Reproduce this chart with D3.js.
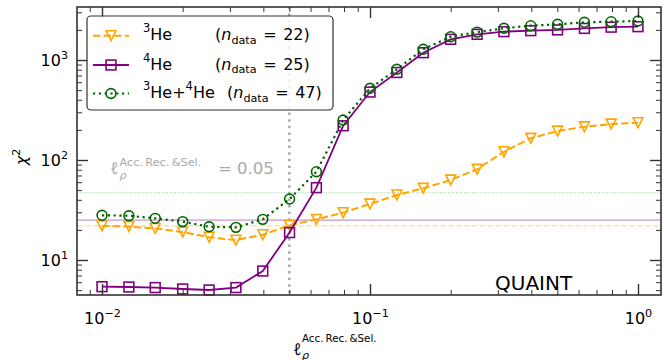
<!DOCTYPE html>
<html>
<head>
<meta charset="utf-8">
<script src="https://cdn.jsdelivr.net/npm/d3@7"></script>
<style>
  body { margin: 0; background: #fff; }
  svg text { font-family: "DejaVu Sans", sans-serif; }
  svg tspan.ell { font-family: "Noto Sans", "DejaVu Sans", sans-serif; font-style: italic; }
</style>
</head>
<body>
<svg id="chart" width="664" height="360"></svg>
<script>
// Length-scale values (log spaced, 10 per decade)
const lengthScale = [0.01, 0.0126, 0.0158, 0.02, 0.0251, 0.0316, 0.0398, 0.0501, 0.0631, 0.0794,
                     0.1, 0.126, 0.158, 0.2, 0.251, 0.316, 0.398, 0.501, 0.631, 0.794, 1.0];
// chi^2 for each data set
const chi2He3  = [21.9, 21.6, 20.7, 19.0, 16.9, 15.8, 17.9, 22.2, 25.5, 29.7, 36.3,
                  44.7, 52.1, 63.1, 80.7, 121, 165, 195, 215, 229, 236];
const chi2He4  = [5.41, 5.37, 5.30, 5.13, 5.01, 5.30, 7.76, 18.8, 52.9, 220, 478,
                  750, 1183, 1610, 1807, 1920, 1965, 2000, 2070, 2130, 2155];
const chi2Both = [28.0, 27.7, 26.1, 24.2, 21.5, 21.2, 25.5, 40.7, 76.4, 251, 521,
                  807, 1279, 1711, 1900, 2075, 2203, 2275, 2382, 2416, 2455];
const nData = [22, 25, 47];
const chosenScale = 0.05;

const xMajorTicks = [0.01, 0.1, 1];
const xTickExponents = ["\u22122", "\u22121", "0"];
const yMajorTicks = [10, 100, 1000];
const yTickExponents = ["1", "2", "3"];

const svg = d3.select("#chart");
const P = { left: 77, right: 661, top: 7, bottom: 295 };

const x = d3.scaleLog()
  .domain([Math.pow(10, -2.0933), Math.pow(10, 0.0858)])
  .range([P.left, P.right]);
const y = d3.scaleLog()
  .domain([Math.pow(10, 0.65), Math.pow(10, 3.53)])
  .range([P.bottom, P.top]);

const isMajor = v => Math.abs(Math.log10(v) - Math.round(Math.log10(v))) < 1e-6;
const xMinor = x.ticks().filter(v => !isMajor(v));
const yMinor = y.ticks().filter(v => !isMajor(v));

// rich text helper: tspans with super/subscript shifts
function rich(textSel, parts) {
  let cur = 0;
  parts.forEach(p => {
    const ts = textSel.append("tspan").text(p.t);
    if (p.size) ts.attr("font-size", p.size);
    if (p.italic) ts.attr("font-style", "italic");
    if (p.x !== undefined) ts.attr("x", p.x);
    if (p.dx) ts.attr("dx", p.dx);
    const target = p.shift || 0;
    if (target !== cur) { ts.attr("dy", cur - target); cur = target; }
  });
}

const series = [
  { name: "He3",  values: chi2He3,  color: "orange",    dash: "7.4,3.2", width: 2,   marker: "tri",    n: nData[0] },
  { name: "He4",  values: chi2He4,  color: "purple",    dash: null,      width: 1.8, marker: "square", n: nData[1] },
  { name: "Both", values: chi2Both, color: "darkgreen", dash: "2.2,3.6", width: 2.2, marker: "circle", n: nData[2] }
];

// reference lines: chi^2 = n_data for each set
const refStyles = [
  { color: "orange",    dash: "5.5,2.4", width: 1.5, opacity: 0.35 },
  { color: "purple",    dash: null,      width: 1.8, opacity: 0.3 },
  { color: "green",     dash: "1,1.65",  width: 1.1, opacity: 0.4 }
];
const refG = svg.append("g");
nData.forEach((n, i) => {
  const s = refStyles[i];
  refG.append("line")
    .attr("x1", P.left).attr("x2", P.right)
    .attr("y1", y(n)).attr("y2", y(n))
    .attr("stroke", s.color).attr("stroke-width", s.width)
    .attr("stroke-opacity", s.opacity)
    .attr("stroke-dasharray", s.dash);
});
// chosen length scale
refG.append("line")
  .attr("x1", x(chosenScale)).attr("x2", x(chosenScale))
  .attr("y1", P.top).attr("y2", P.bottom)
  .attr("stroke", "#aaaaaa").attr("stroke-width", 2.5)
  .attr("stroke-dasharray", "2.5,4.1");

// marker shapes
const MS = 9.8;
function drawMarker(g, kind, cx, cy, color) {
  if (kind === "tri") {
    const h = MS / 2;
    g.append("path")
      .attr("d", `M${cx - h},${cy - h}L${cx + h},${cy - h}L${cx},${cy + h}Z`)
      .attr("fill", "none").attr("stroke", color).attr("stroke-width", 1.6);
  } else if (kind === "square") {
    g.append("rect")
      .attr("x", cx - MS / 2).attr("y", cy - MS / 2)
      .attr("width", MS).attr("height", MS)
      .attr("fill", "none").attr("stroke", color).attr("stroke-width", 1.6);
  } else {
    g.append("circle")
      .attr("cx", cx).attr("cy", cy).attr("r", MS / 2)
      .attr("fill", "none").attr("stroke", color).attr("stroke-width", 1.6);
  }
}

const line = d3.line().x(d => x(d[0])).y(d => y(d[1]));
series.forEach(s => {
  const g = svg.append("g");
  const pts = lengthScale.map((v, i) => [v, s.values[i]]);
  g.append("path").attr("d", line(pts))
    .attr("fill", "none").attr("stroke", s.color)
    .attr("stroke-width", s.width).attr("stroke-dasharray", s.dash);
  pts.forEach(p => drawMarker(g, s.marker, x(p[0]), y(p[1]), s.color));
});

// axes: inward ticks on all four sides
const tickColor = "#333";
function styleAxis(g) {
  g.select(".domain").remove();
  g.selectAll("line").attr("stroke", tickColor);
}
function addAxis(axisFn, scale, vals, size, transform, width) {
  const g = svg.append("g").attr("transform", transform)
    .call(axisFn(scale).tickValues(vals).tickSize(-size).tickSizeOuter(0).tickFormat(""));
  styleAxis(g);
  g.selectAll("line").attr("stroke-width", width);
  return g;
}
addAxis(d3.axisBottom, x, xMinor, 5, `translate(0,${P.bottom})`, 1);
addAxis(d3.axisTop, x, xMinor, 5, `translate(0,${P.top})`, 1);
addAxis(d3.axisLeft, y, yMinor, 5, `translate(${P.left},0)`, 1);
addAxis(d3.axisRight, y, yMinor, 5, `translate(${P.right},0)`, 1);
addAxis(d3.axisTop, x, xMajorTicks, 11, `translate(0,${P.top})`, 1.4);
addAxis(d3.axisRight, y, yMajorTicks, 11, `translate(${P.right},0)`, 1.4);

const xAxisG = svg.append("g").attr("transform", `translate(0,${P.bottom})`)
  .call(d3.axisBottom(x).tickValues(xMajorTicks).tickSize(-11).tickSizeOuter(0).tickPadding(17.6));
styleAxis(xAxisG);
xAxisG.selectAll("line").attr("stroke-width", 1.4);
xAxisG.selectAll("text").each(function(d, i) {
  const t = d3.select(this).text(null).attr("font-size", 16).attr("fill", "#000");
  rich(t, [{ t: "10" }, { t: xTickExponents[i], size: 11.2, shift: 6.5 }]);
});

const yAxisG = svg.append("g").attr("transform", `translate(${P.left},0)`)
  .call(d3.axisLeft(y).tickValues(yMajorTicks).tickSize(-11).tickSizeOuter(0).tickPadding(9));
styleAxis(yAxisG);
yAxisG.selectAll("line").attr("stroke-width", 1.4);
yAxisG.selectAll("text").each(function(d, i) {
  const t = d3.select(this).text(null).attr("font-size", 16).attr("fill", "#000");
  rich(t, [{ t: "10" }, { t: yTickExponents[i], size: 11.2, shift: 6.5 }]);
});

// frame
svg.append("rect")
  .attr("x", P.left).attr("y", P.top)
  .attr("width", P.right - P.left).attr("height", P.bottom - P.top)
  .attr("fill", "none").attr("stroke", tickColor).attr("stroke-width", 1.6);

// axis titles
const yTitle = svg.append("text")
  .attr("transform", `translate(27,157) rotate(-90)`)
  .attr("text-anchor", "middle").attr("font-size", 16);
rich(yTitle, [{ t: "\u03c7", italic: true }, { t: "2", size: 11.2, shift: 7 }]);

// ell with stacked sub/superscripts, as a single text element
const supLabel = "Acc.\u2009Rec.\u2009&Sel.";
function ellLabel(sel, x0, base, subDrop, supGap, supSize, scriptX) {
  const t = sel.append("text").attr("x", x0).attr("y", base).attr("font-size", 16);
  t.append("tspan").attr("class", "ell").text("\u2113");
  t.append("tspan").attr("x", x0 + scriptX).attr("dy", subDrop)
    .attr("font-size", 11).attr("font-style", "italic").text("\u03c1");
  t.append("tspan").attr("x", x0 + scriptX).attr("dy", -subDrop - supGap)
    .attr("font-size", supSize).text(supLabel);
  return t;
}
ellLabel(svg, 293, 355, 3.5, 13, 10.3, 9);

// annotation of chosen scale
const ann = svg.append("g").attr("fill", "#aaaaaa");
ellLabel(ann, 110, 174, 4.5, 8.5, 11.3, 9.5);
ann.append("text").attr("x", 218).attr("y", 174).attr("font-size", 16.5)
  .text("= " + chosenScale.toFixed(2));

// data set label
svg.append("text").attr("x", 495).attr("y", 290).attr("font-size", 20)
  .text("QUAINT");

// legend
const leg = svg.append("g");
leg.append("rect").attr("x", 87).attr("y", 16).attr("width", 246).attr("height", 94)
  .attr("rx", 4).attr("fill", "#fff").attr("fill-opacity", 0.8)
  .attr("stroke", "#333").attr("stroke-width", 1.2);
const legendNames = [
  [{ t: "3", size: 11.5, shift: 8 }, { t: "He" }],
  [{ t: "4", size: 11.5, shift: 8 }, { t: "He" }],
  [{ t: "3", size: 11.5, shift: 8 }, { t: "He+" }, { t: "4", size: 11.5, shift: 8 }, { t: "He " }]
];
const legendParenX = [215, 215, 227];
const rowY = [35.7, 65, 93.5];
series.forEach((s, i) => {
  const cy = rowY[i];
  leg.append("line").attr("x1", 93).attr("x2", 129).attr("y1", cy).attr("y2", cy)
    .attr("stroke", s.color).attr("stroke-width", s.width).attr("stroke-dasharray", s.dash);
  drawMarker(leg, s.marker, 111, cy, s.color);
  const t = leg.append("text").attr("x", 143).attr("y", cy + 4.5).attr("font-size", 16);
  rich(t, legendNames[i].concat([
    { t: "(", x: legendParenX[i] },
    { t: "n", italic: true },
    { t: "data", size: 11.2, shift: -3.5 },
    { t: " =", dx: 1.5 },
    { t: " " + s.n + ")", dx: 1.5 }
  ]));
});
</script>
</body>
</html>
